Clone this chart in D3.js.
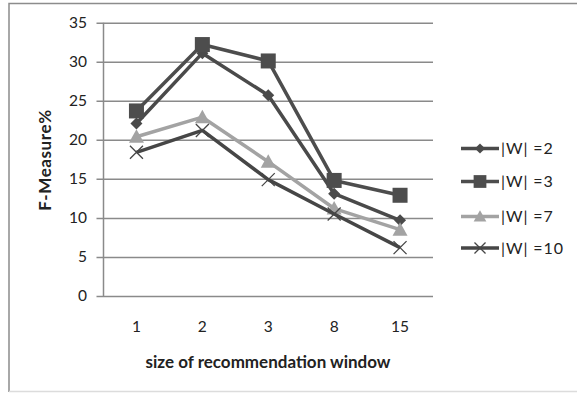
<!DOCTYPE html>
<html>
<head>
<meta charset="utf-8">
<script src="https://cdn.jsdelivr.net/npm/d3@7"></script>
<style>
  html, body { margin: 0; padding: 0; background: #fff; }
  svg { display: block; }
  text { font-family: Lato, "Open Sans", sans-serif; fill: #222; }
</style>
</head>
<body>
<svg id="chart" width="577" height="394"></svg>
<script>
// Window sizes along the x axis
const categories = ["1", "2", "3", "8", "15"];
// F-Measure (%) per window size, one array per |W|
const w2  = [22.1, 31.1, 25.7, 13.1, 9.7];
const w3  = [23.7, 32.2, 30.1, 14.8, 12.9];
const w7  = [20.4, 22.9, 17.2, 11.2, 8.5];
const w10 = [18.4, 21.2, 14.9, 10.5, 6.2];
const seriesNames = ["|W| =2", "|W| =3", "|W| =7", "|W| =10"];
const yTicks = [0, 5, 10, 15, 20, 25, 30, 35];

const series = [
  { name: seriesNames[0], values: w2,  color: "#4a4a4a", marker: "diamond" },
  { name: seriesNames[1], values: w3,  color: "#4d4d4d", marker: "square" },
  { name: seriesNames[2], values: w7,  color: "#a3a3a3", marker: "triangle" },
  { name: seriesNames[3], values: w10, color: "#464646", marker: "cross" }
];

const svg = d3.select("#chart");

// Outer frame
svg.append("path")
  .attr("d", "M9,392 L9,3.5 L577,3.5")
  .attr("fill", "none").attr("stroke", "#8c8c8c").attr("stroke-width", 1.5);
svg.append("line")
  .attr("x1", 9).attr("x2", 577).attr("y1", 391.5).attr("y2", 391.5)
  .attr("stroke", "#dcdcdc").attr("stroke-width", 1.5);

const plot = { left: 103.5, right: 433, top: 22.7, bottom: 296 };

const x = d3.scaleBand().domain(categories).range([plot.left, plot.right]);
const y = d3.scaleLinear().domain([0, 35]).range([plot.bottom, plot.top]);

// Horizontal gridlines with short ticks left of the axis
svg.append("g").attr("transform", `translate(${plot.left},0)`)
  .call(d3.axisLeft(y).tickValues(yTicks).tickSize(-(plot.right - plot.left)).tickPadding(0).tickFormat(""))
  .call(g => g.select(".domain").remove())
  .call(g => g.selectAll(".tick line").attr("stroke", "#8a8a8a").attr("stroke-width", 1.5).attr("x1", -7));

// Y tick labels
svg.append("g").selectAll("text").data(yTicks).join("text")
  .attr("x", 87).attr("y", d => y(d)).attr("dy", "0.35em")
  .attr("text-anchor", "end").attr("font-size", 15.5).text(d => d);

// Y axis line
svg.append("line")
  .attr("x1", plot.left).attr("x2", plot.left).attr("y1", plot.top).attr("y2", plot.bottom)
  .attr("stroke", "#8a8a8a").attr("stroke-width", 1.5);

// X tick labels
svg.append("g").selectAll("text").data(categories).join("text")
  .attr("x", d => x(d) + x.bandwidth() / 2).attr("y", 327).attr("dy", "0.35em")
  .attr("text-anchor", "middle").attr("font-size", 15.5).text(d => d);

// Axis titles
svg.append("text")
  .attr("x", 268).attr("y", 362).attr("dy", "0.35em")
  .attr("text-anchor", "middle").attr("font-size", 17).attr("font-weight", "bold")
  .text("size of recommendation window");
svg.append("text")
  .attr("transform", "translate(45,160) rotate(-90)").attr("dy", "0.35em")
  .attr("text-anchor", "middle").attr("font-size", 17).attr("font-weight", "bold")
  .attr("letter-spacing", 0.6)
  .text("F-Measure%");

function drawMarker(g, type, color, cx, cy, scale) {
  const s = scale || 1;
  if (type === "diamond") {
    const r = 6 * s;
    g.append("path").attr("d", `M${cx},${cy - r}L${cx + r},${cy}L${cx},${cy + r}L${cx - r},${cy}Z`).attr("fill", color);
  } else if (type === "square") {
    const r = 7.5 * s;
    g.append("rect").attr("x", cx - r).attr("y", cy - r).attr("width", 2 * r).attr("height", 2 * r).attr("fill", color);
  } else if (type === "triangle") {
    const r = 7.5 * s;
    g.append("path").attr("d", `M${cx},${cy - r}L${cx + r},${cy + r * 0.8}L${cx - r},${cy + r * 0.8}Z`).attr("fill", color);
  } else if (type === "cross") {
    const r = 6.5 * s;
    g.append("path").attr("d", `M${cx - r},${cy - r}L${cx + r},${cy + r}M${cx - r},${cy + r}L${cx + r},${cy - r}`)
      .attr("stroke", color).attr("stroke-width", 1.3).attr("fill", "none");
  }
}

const line = d3.line().x((d, i) => x(categories[i]) + x.bandwidth() / 2).y(d => y(d));

series.forEach(s => {
  const g = svg.append("g");
  g.append("path").datum(s.values).attr("d", line)
    .attr("fill", "none").attr("stroke", s.color).attr("stroke-width", 3.5).attr("stroke-linejoin", "round");
  s.values.forEach((v, i) => drawMarker(g, s.marker, s.color, x(categories[i]) + x.bandwidth() / 2, y(v)));
});

// Legend
const legendY = [148.5, 181.5, 216.5, 248];
series.forEach((s, i) => {
  const g = svg.append("g");
  g.append("line").attr("x1", 461).attr("x2", 499).attr("y1", legendY[i]).attr("y2", legendY[i])
    .attr("stroke", s.color).attr("stroke-width", 3.5);
  drawMarker(g, s.marker, s.color, 480, legendY[i], 0.85);
  g.append("text").attr("x", 501).attr("y", legendY[i]).attr("dy", "0.35em")
    .attr("font-size", 16).attr("letter-spacing", 0.9).text(s.name);
});
</script>
</body>
</html>
